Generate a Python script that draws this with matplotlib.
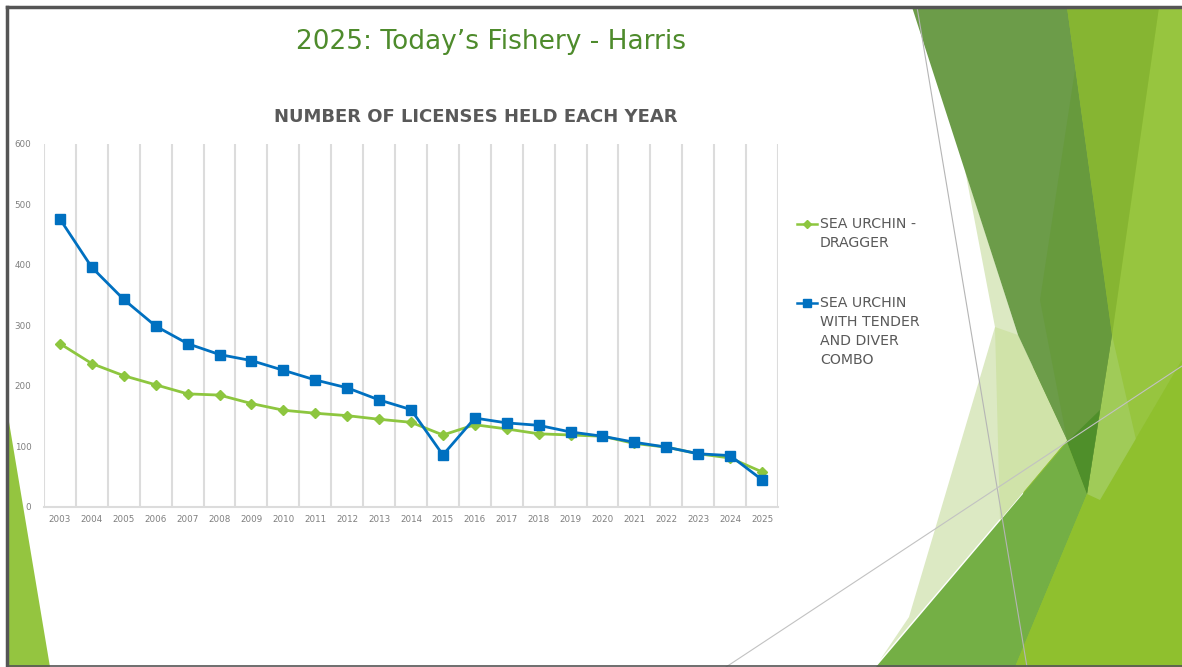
import matplotlib
matplotlib.use("Agg")
import matplotlib.pyplot as plt
from matplotlib.lines import Line2D
from matplotlib.patches import Polygon

years = [str(y) for y in range(2003, 2026)]
dragger = [270, 237, 217, 202, 187, 185, 171, 160, 155, 151, 145, 140,
           119, 136, 129, 121, 119, 117, 105, 99, 88, 81, 58]
tender_diver = [476, 396, 343, 299, 270, 252, 242, 226, 210, 197, 177, 161,
                86, 147, 139, 135, 124, 117, 107, 99, 88, 85, 45]
series_labels = ["SEA URCHIN -\nDRAGGER", "SEA URCHIN\nWITH TENDER\nAND DIVER\nCOMBO"]
y_ticks = [0, 100, 200, 300, 400, 500, 600]

GREEN = "#8dc63f"
BLUE = "#0070c0"
GRAY = "#595959"

W, H = 1182, 667
fig = plt.figure(figsize=(W / 100, H / 100), dpi=100)
fig.patch.set_facecolor("white")

# slide background decoration, in pixel coords
bg = fig.add_axes([0, 0, 1, 1], zorder=0)
bg.set_xlim(0, W)
bg.set_ylim(H, 0)
bg.axis("off")
shapes = [
    ([(1060, 7), (W, 7), (W, H), (1010, H)], "#93c236"),
    ([(1159, 7), (W, 7), (W, 360), (1100, 500), (1112, 335)], "#97c53f"),
    ([(1112, 335), (1137, 444), (1082, 540), (1087, 494)], "#a0cb58"),
    ([(965, 170), (1018, 335), (1067, 440), (880, 660), (909, 617), (995, 327)], "#dce9c3"),
    ([(995, 327), (1018, 335), (1067, 440), (1000, 520)], "#d0e3a9"),
    ([(912, 7), (1067, 7), (1112, 335), (1087, 494), (1067, 440), (1018, 335)], "#6c9c49"),
    ([(1075, 70), (1112, 335), (1087, 494), (1067, 440), (1040, 300)], "#679a3d"),
    ([(1067, 7), (1159, 7), (1112, 335)], "#86b532"),
    ([(876, H), (1067, 442), (1087, 494), (1015, H)], "#74af45"),
    ([(1067, 442), (1100, 410), (1087, 494)], "#4f8f2a"),
    ([(1015, H), (1087, 494), (1100, 500), (W, 360), (W, H)], "#8fc02e"),
    ([(7, 410), (7, H), (50, H)], "#94c540"),
]
for pts, color in shapes:
    bg.add_patch(Polygon(pts, closed=True, facecolor=color, edgecolor="none"))
bg.plot([917, 1027], [7, H], color="#b5b5b5", lw=0.8)
bg.plot([726, W], [H, 366], color="#c2c2c2", lw=0.8)
bg.plot([7, W], [7, 7], color="#555555", lw=2.5)
bg.plot([7, 7], [7, H], color="#555555", lw=2.5)
bg.plot([7, W], [H - 1, H - 1], color="#555555", lw=1.2)

fig.text(491 / W, 1 - 42 / H, "2025: Today\u2019s Fishery - Harris",
         ha="center", va="center", fontsize=19, color="#4e8b2c")
fig.text(476 / W, 1 - 117 / H, "NUMBER OF LICENSES HELD EACH YEAR",
         ha="center", va="center", fontsize=13, fontweight="bold", color=GRAY)

ax = fig.add_axes([44 / W, 1 - 507 / H, (778 - 44) / W, (507 - 144) / H], zorder=2)
ax.patch.set_alpha(0)
x = range(len(years))
line_g, = ax.plot(x, dragger, color=GREEN, lw=2, marker="D", markersize=5)
line_b, = ax.plot(x, tender_diver, color=BLUE, lw=2, marker="s", markersize=7)

ax.set_xlim(-0.5, len(years) - 0.5)
ax.set_ylim(0, 600)
ax.set_yticks(y_ticks)
ax.set_xticks(list(x))
ax.set_xticklabels(years)
ax.set_xticks([i - 0.5 for i in range(len(years) + 1)], minor=True)
ax.grid(True, which="minor", axis="x", color="#dcdcdc", lw=1.5)
ax.tick_params(axis="both", which="both", length=0, labelsize=6.3, labelcolor="#7f7f7f")
ax.tick_params(axis="y", pad=9)
ax.tick_params(axis="x", pad=6)
for side in ["top", "left", "right"]:
    ax.spines[side].set_visible(False)
ax.spines["bottom"].set_color("#dcdcdc")
ax.spines["bottom"].set_linewidth(1.5)

# legend drawn by hand so the key sits on the first text line
for line, label, y0 in [(line_g, series_labels[0], 224), (line_b, series_labels[1], 303)]:
    bg.add_line(Line2D([797, 807, 817], [y0, y0, y0], color=line.get_color(), lw=1.8,
                       marker=line.get_marker(), markersize=line.get_markersize() * 0.8,
                       markevery=[1], zorder=3))
    bg.text(820, y0 - 7, label, ha="left", va="top", fontsize=10.2, color=GRAY,
            linespacing=1.45)

fig.savefig("out.png", dpi=100)
